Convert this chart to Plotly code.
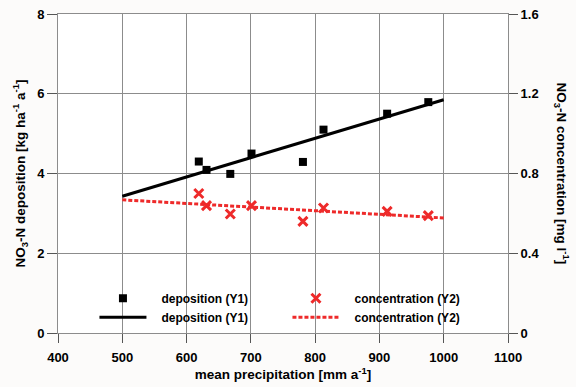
import plotly.graph_objects as go

# Mean annual precipitation of the sites [mm a-1]
precip = [619, 631, 668, 701, 781, 813, 912, 976]
# NO3-N deposition [kg ha-1 a-1] (left axis)
deposition = [4.30, 4.09, 3.99, 4.50, 4.29, 5.10, 5.50, 5.79]
# NO3-N concentration [mg l-1] (right axis)
concentration = [0.700, 0.639, 0.597, 0.639, 0.560, 0.627, 0.610, 0.589]

# Linear regression lines, evaluated at the ends of the fitted range
fit_x = [500, 1000]
dep_fit = [3.43, 5.85]
conc_fit = [0.668, 0.577]

x_ticks = [400, 500, 600, 700, 800, 900, 1000, 1100]
y1_ticks = [0, 2, 4, 6, 8]
y2_ticks = [0, 0.4, 0.8, 1.2, 1.6]

FONT = "Liberation Sans, Arial, sans-serif"
RED = "#ee2a2a"
GRID = "#8c8c8c"
PAD = "\u00a0" * 3  # gap between legend symbol and label

fig = go.Figure()

fig.add_trace(go.Scatter(
    x=precip, y=deposition, mode="markers", name=PAD + "deposition (Y1)",
    marker=dict(symbol="square", size=8, color="black"),
    legend="legend", yaxis="y",
))
fig.add_trace(go.Scatter(
    x=precip, y=concentration, mode="markers", name=PAD + "concentration (Y2)",
    marker=dict(symbol="x-thin", size=9, color=RED, line=dict(color=RED, width=3)),
    legend="legend", yaxis="y2",
))
fig.add_trace(go.Scatter(
    x=fit_x, y=dep_fit, mode="lines", name=PAD + "deposition (Y1)",
    line=dict(color="black", width=3),
    legend="legend2", yaxis="y",
))
fig.add_trace(go.Scatter(
    x=fit_x, y=conc_fit, mode="lines", name=PAD + "concentration (Y2)",
    line=dict(color=RED, width=3, dash="4px,2px"),
    legend="legend2", yaxis="y2",
))

tickfont = dict(family=FONT, size=13, color="black", weight="bold")
titlefont = dict(family=FONT, size=13.5, color="black", weight="bold")
legendfont = dict(family=FONT, size=12, color="black", weight="bold")

legend_common = dict(
    orientation="h", xanchor="left", yanchor="middle",
    bgcolor="rgba(0,0,0,0)", font=legendfont,
    itemwidth=47, entrywidth=131,
)

fig.update_layout(
    width=576, height=387,
    margin=dict(l=58, r=68, t=14, b=54),
    paper_bgcolor="#fcfbfa",
    plot_bgcolor="white",
    showlegend=True,
    legend=dict(x=0.081, y=0.109, **legend_common),
    legend2=dict(x=0.081, y=0.049, **legend_common),
    xaxis=dict(
        range=[400, 1100], tickvals=x_ticks, automargin=False,
        showgrid=True, gridcolor=GRID, gridwidth=1,
        showline=True, linecolor=GRID, mirror=True,
        ticks="outside", ticklen=9, tickcolor="#555",
        tickfont=tickfont, zeroline=False, ticklabelstandoff=3,
        title=dict(text="mean precipitation [mm a<sup>-1</sup>]", font=titlefont, standoff=4),
    ),
    yaxis=dict(
        range=[0, 8], tickvals=y1_ticks, automargin=False,
        showgrid=True, gridcolor=GRID, gridwidth=1,
        showline=True, linecolor=GRID, mirror=True,
        ticks="outside", ticklen=10, tickcolor="#555",
        tickfont=tickfont, zeroline=False,
        title=dict(text="NO<sub>3</sub>-N deposition [kg ha<sup>-1</sup> a<sup>-1</sup>]",
                   font=titlefont, standoff=8),
    ),
    yaxis2=dict(
        range=[0, 1.6], tickvals=y2_ticks, ticktext=["0", "0.4", "0.8", "1.2", "1.6"],
        overlaying="y", side="right", showgrid=False, zeroline=False, automargin=False,
        ticks="outside", ticklen=9, tickcolor="#555",
        tickfont=tickfont,
    ),
    annotations=[dict(
        text="NO<sub>3</sub>-N concentration [mg l<sup>-1</sup>]",
        xref="paper", yref="paper", x=1.12, y=0.5, xanchor="center", yanchor="middle",
        textangle=90, showarrow=False, font=titlefont,
    )],
)

fig.write_html("out.html")
